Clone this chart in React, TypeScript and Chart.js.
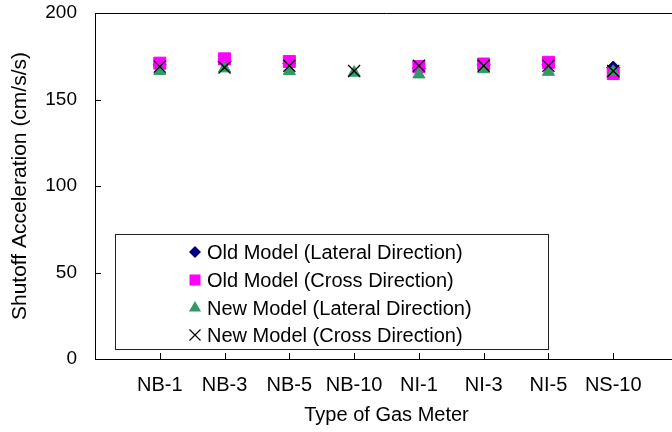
import React, { useEffect, useRef } from 'react';
import { Chart, registerables } from 'chart.js';

Chart.register(...registerables);

const categories = ['NB-1', 'NB-3', 'NB-5', 'NB-10', 'NI-1', 'NI-3', 'NI-5', 'NS-10'];
const oldLateral: (number | null)[] = [170, 172, 171, null, 168, 170, 170, 168.5];
const oldCross: (number | null)[] = [171, 173.5, 172, null, 169, 170.5, 171.5, 165];
const newLateral: (number | null)[] = [166.5, 168, 166.5, 165.5, 164.5, 167.5, 166, 166];
const newCross: (number | null)[] = [169, 168.5, 169.5, 166.5, 169.5, 169.5, 169.5, 166.5];
const seriesNames = [
  'Old Model (Lateral Direction)',
  'Old Model (Cross Direction)',
  'New Model (Lateral Direction)',
  'New Model (Cross Direction)',
];
const yTitle = 'Shutoff Acceleration (cm/s/s)';
const xTitle = 'Type of Gas Meter';

const FONT = "'Liberation Sans', Arial, sans-serif";
const NAVY = '#000080';
const MAGENTA = '#FF00FF';
const GREEN = '#339966';
const BLACK = '#000000';

function drawMarker(ctx: CanvasRenderingContext2D, kind: string, x: number, y: number) {
  ctx.save();
  ctx.beginPath();
  if (kind === 'diamond') {
    const r = 6;
    ctx.fillStyle = NAVY;
    ctx.moveTo(x, y - r);
    ctx.lineTo(x + r, y);
    ctx.lineTo(x, y + r);
    ctx.lineTo(x - r, y);
    ctx.closePath();
    ctx.fill();
  } else if (kind === 'square') {
    const h = 5.5;
    ctx.fillStyle = MAGENTA;
    ctx.fillRect(x - h, y - h, 2 * h, 2 * h);
  } else if (kind === 'triangle') {
    const r = 7;
    ctx.fillStyle = GREEN;
    ctx.moveTo(x, y - r);
    ctx.lineTo(x + r * 0.866, y + r * 0.5);
    ctx.lineTo(x - r * 0.866, y + r * 0.5);
    ctx.closePath();
    ctx.fill();
  } else {
    const h = 5.5;
    ctx.strokeStyle = BLACK;
    ctx.lineWidth = 1.2;
    ctx.moveTo(x - h, y - h);
    ctx.lineTo(x + h, y + h);
    ctx.moveTo(x + h, y - h);
    ctx.lineTo(x - h, y + h);
    ctx.stroke();
  }
  ctx.restore();
}

export default function App() {
  const ref = useRef<HTMLCanvasElement>(null);

  useEffect(() => {
    if (!ref.current) return;
    const toPts = (arr: (number | null)[]) => arr.map((v, i) => ({ x: i + 1, y: v }));

    const framePlugin = {
      id: 'frame',
      afterDatasetsDraw(chart: any) {
        const { ctx, chartArea } = chart;
        const xs = chart.scales.x;
        const ys = chart.scales.y;
        ctx.save();
        ctx.strokeStyle = '#000';
        ctx.lineWidth = 1;
        ctx.beginPath();
        // top and right frame
        ctx.moveTo(chartArea.left, Math.round(chartArea.top) + 0.5);
        ctx.lineTo(chartArea.right, Math.round(chartArea.top) + 0.5);
        ctx.moveTo(Math.round(chartArea.right) + 0.5, chartArea.top);
        ctx.lineTo(Math.round(chartArea.right) + 0.5, chartArea.bottom);
        // inward y ticks
        ys.ticks.forEach((t: any) => {
          const py = Math.round(ys.getPixelForValue(t.value)) + 0.5;
          ctx.moveTo(chartArea.left, py);
          ctx.lineTo(chartArea.left + 6, py);
        });
        // inward x ticks at categories
        categories.forEach((_, i) => {
          const px = Math.round(xs.getPixelForValue(i + 1)) + 0.5;
          ctx.moveTo(px, chartArea.bottom);
          ctx.lineTo(px, chartArea.bottom - 6);
        });
        ctx.stroke();

        // legend box
        const bx = chartArea.left + 20;
        const by = chartArea.top + 221;
        const bw = 433;
        const bh = 115;
        ctx.fillStyle = '#fff';
        ctx.fillRect(bx, by, bw, bh);
        ctx.strokeStyle = '#222';
        ctx.strokeRect(Math.round(bx) + 0.5, Math.round(by) + 0.5, bw, bh);
        const kinds = ['diamond', 'square', 'triangle', 'cross'];
        const rowY = [18, 46, 74, 101];
        ctx.font = `20px ${FONT}`;
        ctx.textBaseline = 'middle';
        ctx.textAlign = 'left';
        ctx.fillStyle = '#000';
        seriesNames.forEach((name, i) => {
          drawMarker(ctx, kinds[i], bx + 80, by + rowY[i]);
          ctx.fillStyle = '#000';
          ctx.fillText(name, bx + 92, by + rowY[i] + 1);
        });
        ctx.restore();
      },
    };

    const chart = new Chart(ref.current, {
      type: 'scatter',
      data: {
        datasets: [
          {
            label: seriesNames[0],
            data: toPts(oldLateral),
            pointStyle: 'rectRot',
            pointRadius: 6.5,
            backgroundColor: NAVY,
            borderColor: NAVY,
            borderWidth: 1,
            order: 4,
          },
          {
            label: seriesNames[1],
            data: toPts(oldCross),
            pointStyle: 'rect',
            pointRadius: 8.5,
            backgroundColor: MAGENTA,
            borderColor: MAGENTA,
            borderWidth: 1,
            order: 3,
          },
          {
            label: seriesNames[2],
            data: toPts(newLateral),
            pointStyle: 'triangle',
            pointRadius: 7,
            backgroundColor: GREEN,
            borderColor: GREEN,
            borderWidth: 1,
            order: 2,
          },
          {
            label: seriesNames[3],
            data: toPts(newCross),
            pointStyle: 'crossRot',
            pointRadius: 8.5,
            backgroundColor: BLACK,
            borderColor: BLACK,
            borderWidth: 1.3,
            order: 1,
          },
        ],
      },
      options: {
        responsive: false,
        animation: false,
        events: [],
        layout: { autoPadding: false, padding: { left: 0, top: 0, right: 2, bottom: 0 } },
        plugins: {
          legend: { display: false },
          tooltip: { enabled: false },
        },
        scales: {
          x: {
            type: 'linear',
            min: 0,
            max: 9,
            afterFit: (s: any) => {
              s.height = 73;
            },
            grid: { display: false, drawTicks: false },
            border: { display: true, color: '#000', width: 1 },
            ticks: {
              stepSize: 1,
              autoSkip: false,
              maxRotation: 0,
              padding: 0,
              color: '#000',
              font: { family: FONT, size: 20, lineHeight: 52 / 20 },
              callback: (v: any) => categories[Number(v) - 1] ?? '',
            },
            title: {
              display: true,
              text: xTitle,
              color: '#000',
              font: { family: FONT, size: 20 },
              padding: { top: 0, bottom: 5 },
            },
          },
          y: {
            type: 'linear',
            min: 0,
            max: 200,
            afterFit: (s: any) => {
              s.width = 95;
            },
            grid: {
              display: true,
              drawOnChartArea: false,
              drawTicks: true,
              tickLength: 18,
              color: 'rgba(0,0,0,0)',
            },
            border: { display: true, color: '#000', width: 1 },
            ticks: {
              stepSize: 50,
              padding: 0,
              color: '#000',
              font: { family: FONT, size: 19, lineHeight: 26 / 19 },
            },
            title: {
              display: true,
              text: yTitle,
              color: '#000',
              font: { family: FONT, size: 21 },
              padding: { top: 8, bottom: 0 },
            },
          },
        },
      },
      plugins: [framePlugin],
    } as any);

    return () => chart.destroy();
  }, []);

  return (
    <div
      style={{
        position: 'absolute',
        left: 0,
        top: 0,
        width: 672,
        height: 432,
        overflow: 'hidden',
        background: '#fff',
      }}
    >
      <canvas ref={ref} width={680} height={432} style={{ display: 'block', width: 680, height: 432 }} />
    </div>
  );
}
